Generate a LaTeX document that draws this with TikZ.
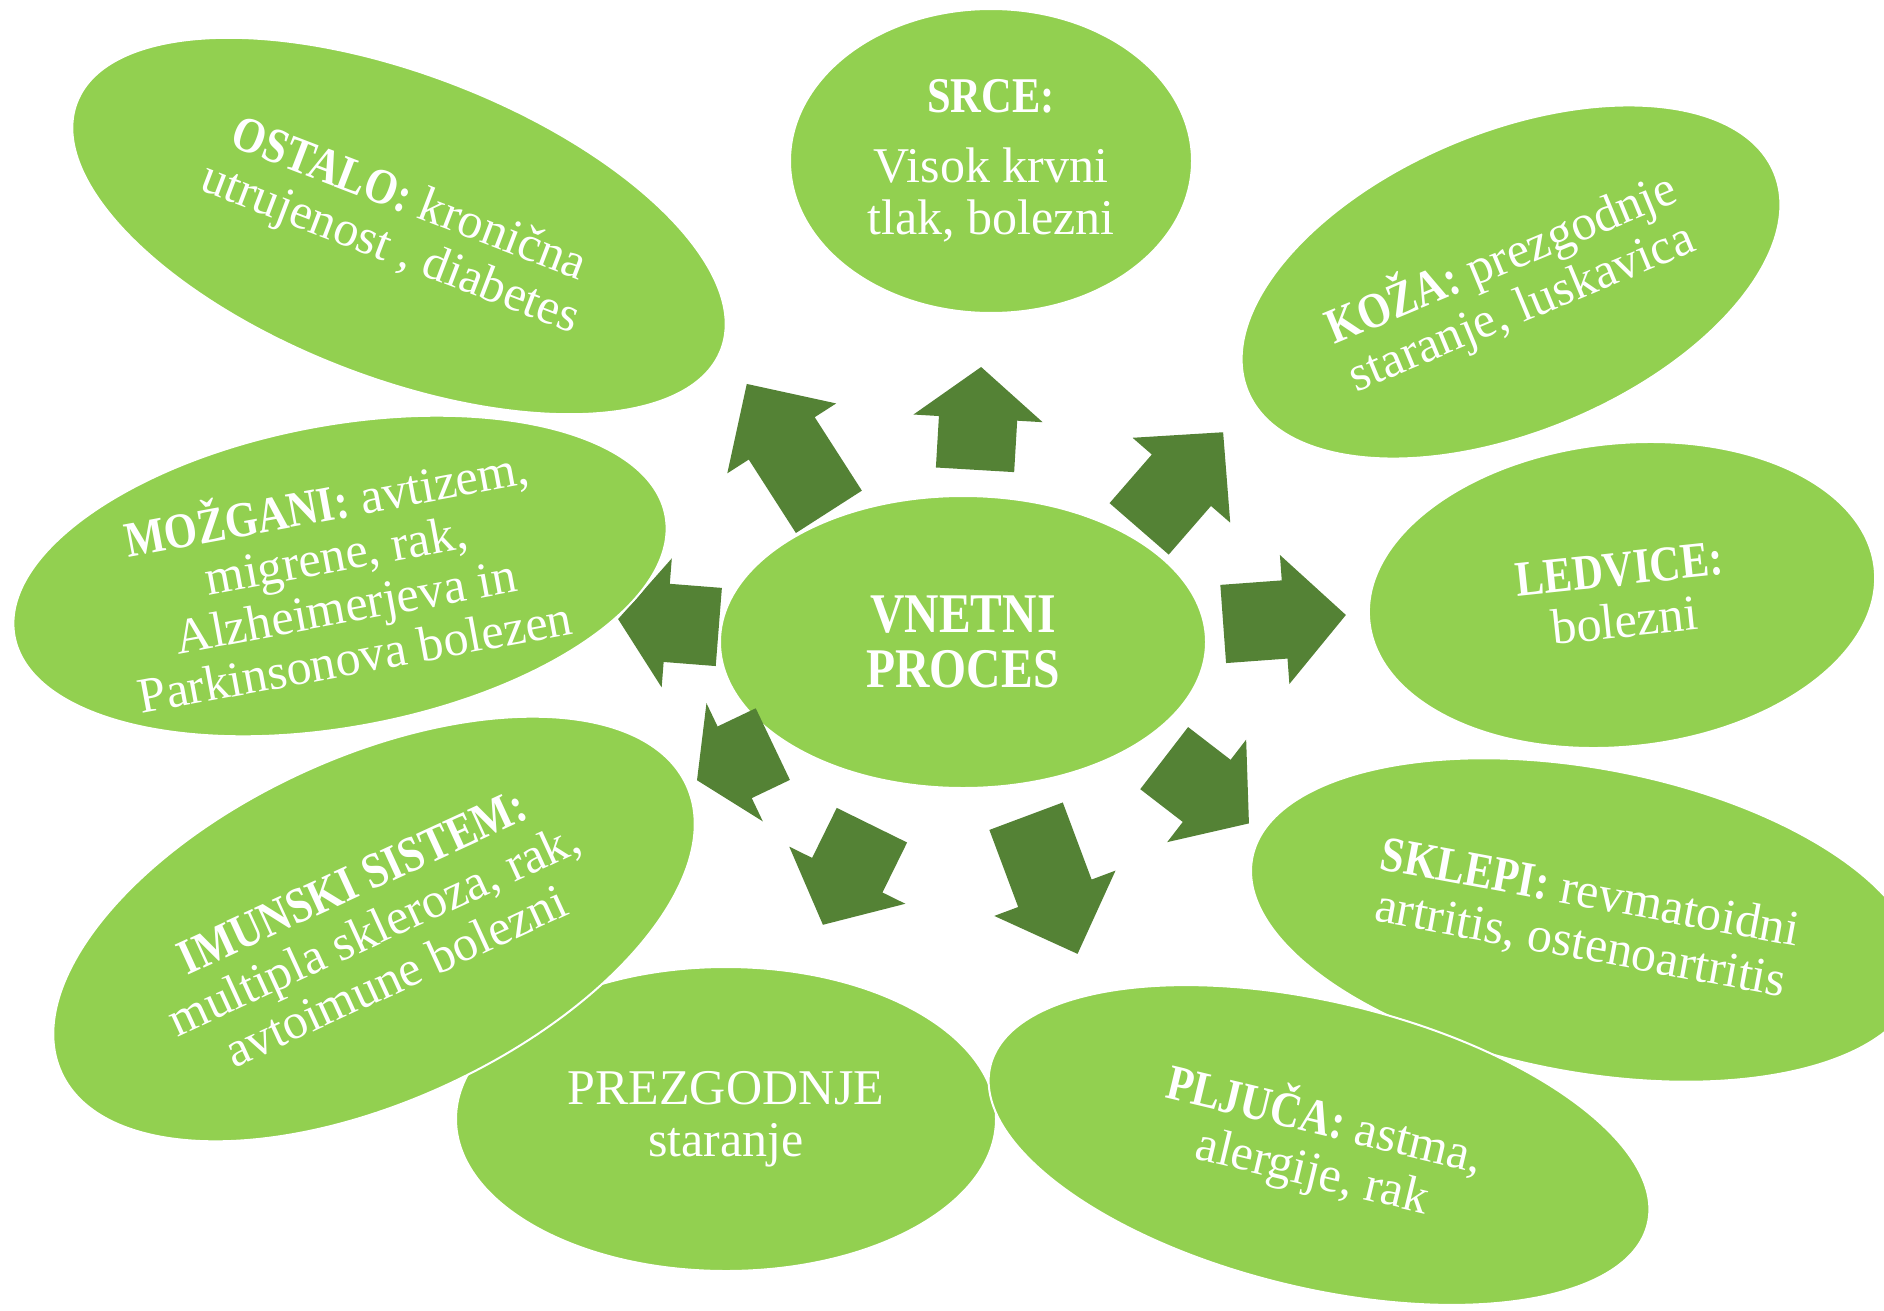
\documentclass[tikz,border=0pt]{standalone}
\usepackage{fontspec}
\setmainfont{Liberation Serif}[BoldFeatures={FakeStretch=0.85}]
\usetikzlibrary{shapes.geometric,shapes.arrows}
\definecolor{leaf}{HTML}{92D050}
\definecolor{moss}{HTML}{548235}
\begin{document}
\begin{tikzpicture}[x=1pt, y=-1pt,
  bubble/.style={ellipse, fill=leaf, draw=white, line width=2pt, text=white,
    inner sep=0pt, align=center, font=\fontsize{50}{52}\selectfont},
  blockarr/.style={single arrow, fill=moss, inner xsep=0pt, inner ysep=39pt, anchor=tail,
    minimum width=129pt, single arrow head extend=25.5pt}]
  \fill[white, use as bounding box] (0,0) rectangle (1884,1311);
  % centre
  \node[bubble, minimum width=486pt, minimum height=292pt,
    font=\bfseries\fontsize{56}{55}\selectfont] (vnetni) at (963,642) {VNETNI\\PROCES};
  % arrows pointing out, anchored at their tails
  \node[blockarr, rotate=86.6, minimum height=103pt, single arrow tip angle=103] (toSrce) at (975,470) {};
  \node[blockarr, rotate=122.7, minimum height=152pt, single arrow tip angle=90] (toOstalo) at (829,512) {};
  \node[blockarr, rotate=49, minimum height=128pt, single arrow tip angle=91] (toKoza) at (1139,529) {};
  \node[blockarr, rotate=4.2, minimum height=123pt, single arrow tip angle=93] (toLedvice) at (1223,624) {};
  \node[blockarr, rotate=-37.6, minimum height=107pt, single arrow tip angle=101] (toSklepi) at (1164,758) {};
  \node[blockarr, rotate=-69.5, minimum height=147pt, single arrow tip angle=90] (toPljuca) at (1026,816) {};
  \node[blockarr, rotate=-116.2, minimum height=111pt, single arrow tip angle=99] (toStaranje) at (872,825) {};
  \node[blockarr, rotate=-154.5, minimum height=84pt, minimum width=131pt, single arrow tip angle=115] (toImunski) at (773,744) {};
  \node[blockarr, rotate=175.5, minimum height=101pt, single arrow tip angle=106] (toMozgani) at (719,627) {};
  % outer bubbles
  \node[bubble, rotate=-21, minimum width=690pt, minimum height=304pt] (ostalo) at (399,226)
    {\textbf{OSTALO:} kronična\\utrujenost , diabetes};
  \node[bubble, minimum width=402pt, minimum height=304pt] (srce) at (991,161)
    {\textbf{SRCE:}\\[18pt]Visok krvni\\tlak, bolezni};
  \node[bubble, rotate=22.6, minimum width=570pt, minimum height=300pt] (koza) at (1511,282)
    {\textbf{KOŽA:} prezgodnje\\staranje, luskavica};
  \node[bubble, rotate=6, minimum width=508pt, minimum height=303pt] (ledvice) at (1622,595)
    {\textbf{LEDVICE:}\\bolezni};
  \node[bubble, rotate=10.5, minimum width=662pt, minimum height=302pt] (mozgani) at (340,576)
    {\textbf{MOŽGANI:} avtizem,\\migrene, rak,\\Alzheimerjeva in\\Parkinsonova bolezen};
  \node[bubble, minimum width=540pt, minimum height=304pt] (staranje) at (726,1119)
    {PREZGODNJE\\staranje};
  \node[bubble, rotate=24.7, minimum width=688pt, minimum height=344pt] (imunski) at (374,929)
    {\textbf{IMUNSKI SISTEM:}\\multipla skleroza, rak,\\avtoimune bolezni};
  \node[bubble, rotate=-10.5, minimum width=677pt, minimum height=304pt] (sklepi) at (1585,920)
    {\textbf{SKLEPI:} revmatoidni\\artritis, ostenoartritis};
  \node[bubble, rotate=-13.5, minimum width=676pt, minimum height=286pt] (pljuca) at (1319,1145)
    {\textbf{PLJUČA:} astma,\\alergije, rak};
\end{tikzpicture}
\end{document}
